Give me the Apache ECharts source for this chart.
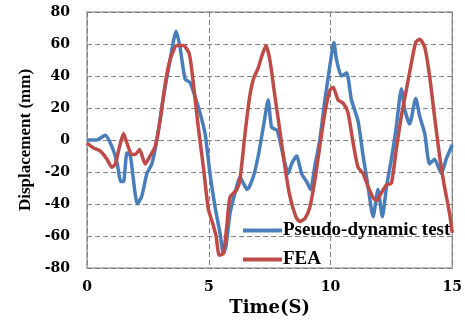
<!DOCTYPE html>
<html>
<head>
<meta charset="utf-8">
<script src="https://cdn.jsdelivr.net/npm/echarts@6/dist/echarts.min.js"></script>
<style>
  html, body { margin: 0; padding: 0; background: #fff; }
  #main { width: 465px; height: 324px; }
</style>
</head>
<body>
<div id="main"></div>
<script>
// 数据
var testTime = [0, 0.41, 0.75, 1.02, 1.23, 1.39, 1.5, 1.64, 1.78, 2.07, 2.25, 2.46, 2.66, 2.87, 3.14, 3.41, 3.66, 3.82, 4.03, 4.23, 4.44, 4.64, 4.85, 5.05, 5.26, 5.46, 5.6, 5.71, 5.87, 6.08, 6.28, 6.42, 6.58, 6.83, 7.03, 7.24, 7.44, 7.58, 7.81, 8.06, 8.26, 8.4, 8.61, 8.81, 9.02, 9.18, 9.36, 9.56, 9.77, 9.97, 10.14, 10.25, 10.45, 10.66, 10.86, 11.13, 11.34, 11.54, 11.75, 11.95, 12.13, 12.3, 12.5, 12.7, 12.91, 13.05, 13.25, 13.5, 13.66, 13.87, 14.07, 14.27, 14.55, 14.75, 15];
var testDisp = [0, 0, 3, -4, -14, -26, -26, -8, -10, -40, -35, -21, -15, 0, 27, 50, 68, 58, 38, 36, 27, 17, 4, -21, -42, -58, -71, -66, -46, -33, -23, -27, -31, -23, -10, 8, 25, 8, 6, -10, -21, -15, -10, -21, -26, -31, -16, 0, 25, 46, 61, 50, 40, 42, 25, 12, -10, -29, -48, -31, -48, -29, -12, 8, 32, 19, 10, 26, 15, 4, -15, -12, -21, -12, -3];

var feaTime = [0, 0.27, 0.55, 0.82, 1.02, 1.16, 1.34, 1.5, 1.64, 1.84, 1.98, 2.16, 2.39, 2.59, 2.8, 3.0, 3.21, 3.41, 3.69, 3.96, 4.2, 4.37, 4.57, 4.78, 4.98, 5.16, 5.3, 5.43, 5.6, 5.74, 5.87, 6.15, 6.28, 6.49, 6.66, 6.83, 7.03, 7.17, 7.35, 7.51, 7.72, 7.92, 8.13, 8.33, 8.58, 8.74, 8.95, 9.15, 9.36, 9.56, 9.77, 9.97, 10.11, 10.31, 10.52, 10.72, 10.93, 11.13, 11.34, 11.54, 11.75, 11.89, 12.09, 12.3, 12.5, 12.7, 12.91, 13.11, 13.32, 13.5, 13.66, 13.87, 14.07, 14.27, 14.48, 14.68, 14.89, 15];
var feaDisp = [-2, -5, -7, -12, -17, -15, -4, 4, -2, -9, -9, -6, -15, -10, -4, 12, 35, 50, 59, 59, 54, 35, 8, -17, -43, -52, -60, -72, -71, -54, -36, -31, -25, 4, 25, 38, 45, 52, 59, 50, 27, 6, -17, -35, -48, -51, -49, -42, -25, -4, 17, 31, 33, 25, 23, 17, -2, -17, -21, -29, -36, -38, -33, -28, -27, -6, 15, 31, 48, 61, 63, 58, 40, 15, -10, -29, -46, -58];

var seriesNames = ['Pseudo-dynamic test', 'FEA'];
var yTicks = [-80, -60, -40, -20, 0, 20, 40, 60, 80];
var xTicks = [0, 5, 10, 15];

function pairs(xs, ys) {
  return xs.map(function (x, i) { return [x, ys[i]]; });
}

var chart = echarts.init(document.getElementById('main'));

var serif = 'Liberation Serif';
var wide = 'DejaVu Serif';
var option = {
  animation: false,
  grid: {
    left: 87, right: 12, top: 12, bottom: 56,
    show: true, borderColor: '#a0a0a0', borderWidth: 1.5
  },
  legend: {
    orient: 'vertical',
    left: 243, top: 221, padding: 0,
    itemWidth: 39, itemHeight: 4, itemGap: 10,
    icon: 'rect',
    textStyle: { fontFamily: serif, fontWeight: 'bold', fontSize: 19, color: '#000', padding: [0, 0, 0, -4] },
    data: seriesNames
  },
  xAxis: {
    type: 'value',
    min: xTicks[0], max: xTicks[xTicks.length - 1], interval: 5,
    name: 'Time(S)', nameLocation: 'middle', nameGap: 30,
    nameTextStyle: { fontFamily: wide, fontWeight: 'bold', fontSize: 18, color: '#000' },
    axisLine: { show: false }, axisTick: { show: false },
    axisLabel: { fontFamily: wide, fontWeight: 'bold', fontSize: 14, color: '#000', margin: 12 },
    splitLine: { show: true, lineStyle: { color: '#808080', type: [5, 3], width: 1 } }
  },
  yAxis: {
    type: 'value',
    min: yTicks[0], max: yTicks[yTicks.length - 1], interval: 20,
    name: 'Displacement (mm)', nameLocation: 'middle', nameGap: 52,
    nameTextStyle: { fontFamily: serif, fontWeight: 'bold', fontSize: 17, color: '#000' },
    axisLine: { show: false }, axisTick: { show: false },
    axisLabel: { fontFamily: wide, fontWeight: 'bold', fontSize: 14, color: '#000', margin: 17 },
    splitLine: { show: true, lineStyle: { color: '#808080', type: [5, 3], width: 1 } }
  },
  series: [
    {
      name: seriesNames[0], type: 'line', showSymbol: false, smooth: 0.2,
      data: pairs(testTime, testDisp),
      lineStyle: { color: '#4a7ebb', width: 3.5 }, itemStyle: { color: '#4a7ebb' }
    },
    {
      name: seriesNames[1], type: 'line', showSymbol: false, smooth: 0.2,
      data: pairs(feaTime, feaDisp),
      lineStyle: { color: '#be4b48', width: 3.5 }, itemStyle: { color: '#be4b48' }
    }
  ]
};

chart.setOption(option);
</script>
</body>
</html>
